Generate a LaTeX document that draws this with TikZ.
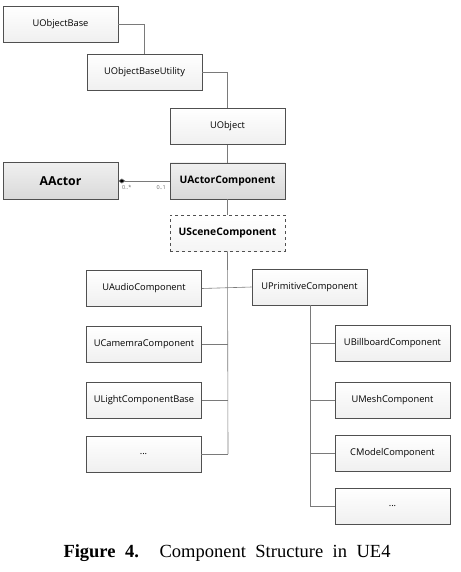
\documentclass[tikz,border=0pt]{standalone}
\usepackage{fontspec}
\setmainfont{Liberation Serif}
\newfontfamily\boxfont{Open Sans}
\usetikzlibrary{arrows.meta,shadows}
\definecolor{lineg}{HTML}{7A7A7A}
\definecolor{boxline}{HTML}{505050}
\tikzset{
  cls/.style={draw=boxline, line width=0.7pt, top color=white, bottom color=gray!12,
    minimum width=115pt, minimum height=36pt, inner sep=0pt,
    font=\boxfont\fontsize{9.3}{12}\selectfont},
  clsdark/.style={cls, top color=gray!12, bottom color=gray!30},
  clsdash/.style={cls, dashed, top color=white, bottom color=gray!8},
  boldlbl/.style={font=\boxfont\fontsize{10.3}{12}\selectfont\bfseries},
  conn/.style={draw=lineg, line width=0.6pt},
  mult/.style={font=\boxfont\fontsize{5.5}{6}\selectfont, text=gray!80!black, inner sep=1pt}
}
\begin{document}
\begin{tikzpicture}[x=1pt,y=-1pt]
\useasboundingbox (0,0) rectangle (460,572);
% top chain
\node[cls] (ob) at (60.5,24) {UObjectBase};
\node[cls] (obu) at (144.5,72) {UObjectBaseUtility};
\node[cls] (uo) at (227.5,126.5) {UObject};
\node[clsdark, boldlbl] (uac) at (227.5,181) {UActorComponent};
\node[clsdark, minimum height=37pt, font=\boxfont\fontsize{12.3}{14}\selectfont\bfseries] (aa) at (60.5,181) {AActor};
\node[clsdash, boldlbl] (usc) at (227.5,233) {USceneComponent};
% left column
\node[cls] (aud) at (144,288.5) {UAudioComponent};
\node[cls] (cam) at (144,344.5) {UCamemraComponent};
\node[cls] (lig) at (144,400) {ULightComponentBase};
\node[cls] (ld) at (143.5,454) {...};
% primitive
\node[cls] (prim) at (309.5,287) {UPrimitiveComponent};
% right column
\node[cls] (bil) at (392.5,343.5) {UBillboardComponent};
\node[cls] (mesh) at (392.5,400) {UMeshComponent};
\node[cls] (cmod) at (392.5,453.5) {CModelComponent};
\node[cls] (rd) at (392.5,506) {...};
% coordinates
\coordinate (tl) at (228,454);
\coordinate (tr) at (310,506);
% connectors
\draw[conn] (ob.east) -| (obu.north);
\draw[conn] (obu.east) -| (uo.north);
\draw[conn] (uo.south) -- (uac.north);
\draw[conn] (uac.south) -- (usc.north);
\draw[conn, {Diamond[length=7pt,width=5pt,fill=black]}-] (aa.east) -- (uac.west);
\node[mult, anchor=north west] at (121,184) {0..*};
\node[mult, anchor=north east] at (167,184) {0..1};
\draw[conn] (usc.south) -- (tl);
\draw[conn] (ld.east) -- (tl);
\draw[conn] (aud.east) -- (prim.west);
\draw[conn] (cam.east) -- (cam.east -| tl);
\draw[conn] (lig.east) -- (lig.east -| tl);
\draw[conn] (prim.south -| tr) -- (tr);
\draw[conn] (rd.west) -- (tr);
\draw[conn] (bil.west) -- (bil.west -| tr);
\draw[conn] (mesh.west) -- (mesh.west -| tr);
\draw[conn] (cmod.west) -- (cmod.west -| tr);
% caption
\node[anchor=base, inner sep=0pt] (cap) at (227,557)
  {\fontsize{18.5}{20}\selectfont\makebox[327pt][s]{\textbf{Figure 4.} Component Structure in UE4}};
\end{tikzpicture}
\end{document}
